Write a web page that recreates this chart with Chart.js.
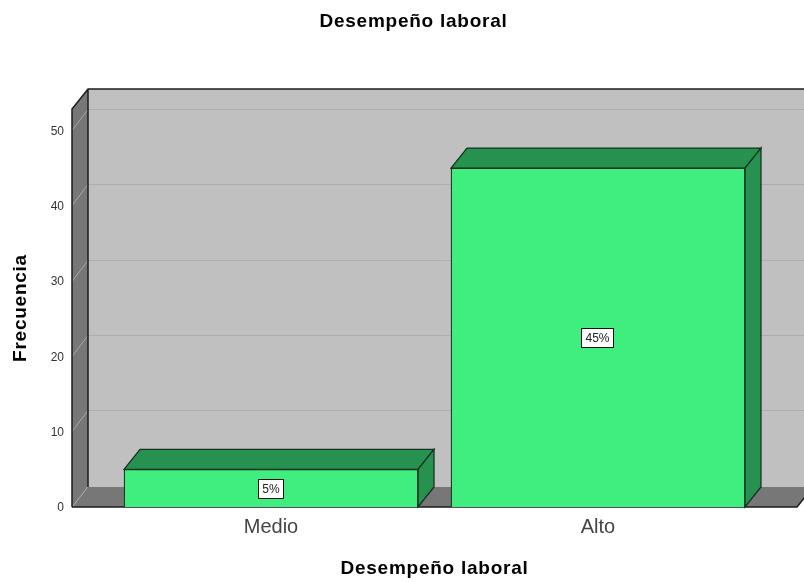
<!DOCTYPE html>
<html>
<head>
<meta charset="utf-8">
<title>Desempeño laboral</title>
<script src="https://cdn.jsdelivr.net/npm/chart.js@4"></script>
<style>
	html, body { margin: 0; padding: 0; background: #fff; overflow: hidden; }
	canvas { display: block; }
</style>
</head>
<body>
<canvas id="Chart1" width="804" height="582"></canvas>
<script>
var categories = ['Medio', 'Alto'];
var frecuencia = [5, 45];
var pctLabels = ['5%', '45%'];
var yTicks = [0, 10, 20, 30, 40, 50];

var FONT = '"Liberation Sans", Arial, sans-serif';
var DX = 16, DY = -20, GRID_DY = -21;

function poly(ctx, pts, fill, stroke, lw) {
	ctx.beginPath();
	ctx.moveTo(pts[0][0], pts[0][1]);
	for (var i = 1; i < pts.length; i++) ctx.lineTo(pts[i][0], pts[i][1]);
	ctx.closePath();
	ctx.fillStyle = fill;
	ctx.fill();
	if (stroke) {
		ctx.strokeStyle = stroke;
		ctx.lineWidth = lw;
		ctx.stroke();
	}
}

// the bold titles are wider in the original, so draw them with some letter spacing
function spaced(obj, method, ctx) {
	if (obj['_' + method]) return;
	var orig = obj[method];
	obj['_' + method] = orig;
	obj[method] = function () {
		ctx.letterSpacing = '0.75px';
		orig.apply(obj, arguments);
		ctx.letterSpacing = '0px';
	};
}

// back wall, side wall, floor and the depth faces of the bars
var box3d = {
	id: 'box3d',
	afterLayout: function (chart) {
		// title is centred a bit right of the page in the original
		chart.titleBlock.left = 23;
		chart.titleBlock.right = 804;
		spaced(chart.titleBlock, 'draw', chart.ctx);
		spaced(chart.scales.x, 'drawTitle', chart.ctx);
		spaced(chart.scales.y, 'drawTitle', chart.ctx);
	},
	beforeDatasetsDraw: function (chart) {
		var ctx = chart.ctx, a = chart.chartArea, y = chart.scales.y;
		ctx.save();
		poly(ctx, [[a.left + DX, a.top + DY], [a.right + DX, a.top + DY], [a.right + DX, a.bottom + DY], [a.left + DX, a.bottom + DY]], '#c0c0c0');
		poly(ctx, [[a.left, a.top], [a.left + DX, a.top + DY], [a.left + DX, a.bottom + DY], [a.left, a.bottom]], '#777777');
		poly(ctx, [[a.left, a.bottom], [a.left + DX, a.bottom + DY], [a.right + DX, a.bottom + DY], [a.right, a.bottom]], '#777777');

		ctx.lineWidth = 1;
		yTicks.forEach(function (t) {
			if (t === 0) return;
			var py = Math.floor(y.getPixelForValue(t)) + 0.5;
			ctx.strokeStyle = '#adadad';
			ctx.beginPath();
			ctx.moveTo(a.left + DX, py + GRID_DY);
			ctx.lineTo(a.right + DX, py + GRID_DY);
			ctx.stroke();
		});
		yTicks.forEach(function (t) {
			var py = Math.floor(y.getPixelForValue(t)) + 0.5;
			ctx.strokeStyle = '#a8a8a8';
			ctx.beginPath();
			ctx.moveTo(a.left, py);
			ctx.lineTo(a.left + DX, py + GRID_DY);
			ctx.stroke();
		});

		// outline of the box
		ctx.strokeStyle = '#1c1c1c';
		ctx.lineWidth = 1.5;
		ctx.beginPath();
		ctx.moveTo(a.left, a.bottom);
		ctx.lineTo(a.left, a.top);
		ctx.lineTo(a.left + DX, a.top + DY);
		ctx.lineTo(a.right + DX, a.top + DY);
		ctx.moveTo(a.left + DX, a.top + DY);
		ctx.lineTo(a.left + DX, a.bottom + DY);
		ctx.moveTo(a.left, a.bottom);
		ctx.lineTo(a.right, a.bottom);
		ctx.lineTo(a.right + DX, a.bottom + DY);
		ctx.stroke();

		// bar depth
		chart.getDatasetMeta(0).data.forEach(function (bar) {
			var l = bar.x - bar.width / 2, r = bar.x + bar.width / 2, t = bar.y, b = bar.base;
			poly(ctx, [[l, t], [l + DX, t + DY], [r + DX, t + DY], [r, t]], '#27914f', '#14301f', 1.25);
			poly(ctx, [[r, t], [r + DX, t + DY], [r + DX, b + DY], [r, b]], '#27914f', '#14301f', 1.25);
		});
		ctx.restore();
	},
	afterDatasetsDraw: function (chart) {
		var ctx = chart.ctx;
		ctx.save();
		ctx.font = '12px ' + FONT;
		ctx.textAlign = 'center';
		ctx.textBaseline = 'middle';
		chart.getDatasetMeta(0).data.forEach(function (bar, i) {
			var cx = bar.x, cy = (bar.y + bar.base) / 2;
			var w = Math.round(ctx.measureText(pctLabels[i]).width) + 8, h = 19;
			var bx = Math.round(cx - w / 2) - 0.5, by = Math.round(cy - h / 2) + 0.5;
			ctx.fillStyle = '#ffffff';
			ctx.fillRect(bx, by, w, h);
			ctx.strokeStyle = '#111111';
			ctx.lineWidth = 1;
			ctx.strokeRect(bx, by, w, h);
			ctx.fillStyle = '#222222';
			ctx.fillText(pctLabels[i], bx + w / 2, by + h / 2 + 1);
		});
		ctx.restore();
	}
};

var context = document.getElementById('Chart1').getContext('2d');

var myChart = new Chart(context, {
	type: 'bar',
	plugins: [box3d],
	data: {
		datasets: [{
			data: categories.map(function (c, i) { return { x: i, y: frecuencia[i] }; }),
			backgroundColor: '#40ee80',
			borderColor: '#14301f',
			borderWidth: 1.25,
			barThickness: 294
		}]
	},
	options: {
		responsive: false,
		animation: false,
		layout: { padding: { left: 0, right: 7, top: 0, bottom: 0 } },
		plugins: {
			legend: { display: false },
			tooltip: { enabled: false },
			title: {
				display: true,
				text: 'Desempeño laboral',
				color: '#000',
				font: { family: FONT, size: 19, weight: 'bold' },
				padding: { top: 10.5, bottom: 75.7 }
			}
		},
		scales: {
			x: {
				type: 'linear',
				offset: false,
				min: -0.6086,
				max: 1.6086,
				afterBuildTicks: function (s) { s.ticks = categories.map(function (c, i) { return { value: i }; }); },
				afterFit: function (s) { s.height = 75; },
				grid: { display: false, drawTicks: false, tickLength: 0 },
				border: { display: false },
				ticks: {
					callback: function (v) { return categories[v]; },
					color: '#444',
					padding: 8,
					maxRotation: 0,
					font: { family: FONT, size: 20 }
				},
				title: {
					display: true,
					text: 'Desempeño laboral',
					color: '#000',
					font: { family: FONT, size: 19, weight: 'bold' },
					padding: { top: 0, bottom: 1.4 }
				}
			},
			y: {
				min: 0,
				max: 52.85,
				afterBuildTicks: function (s) { s.ticks = yTicks.map(function (v) { return { value: v }; }); },
				afterFit: function (s) { s.width = 72; },
				grid: { display: false, drawTicks: false, tickLength: 0 },
				border: { display: false },
				ticks: {
					color: '#333',
					padding: 8,
					labelOffset: 1,
					font: { family: FONT, size: 12 }
				},
				title: {
					display: true,
					text: 'Frecuencia',
					color: '#000',
					font: { family: FONT, size: 19, weight: 'bold' },
					padding: { top: 9.5, bottom: 0 }
				}
			}
		}
	}
});
</script>
</body>
</html>
